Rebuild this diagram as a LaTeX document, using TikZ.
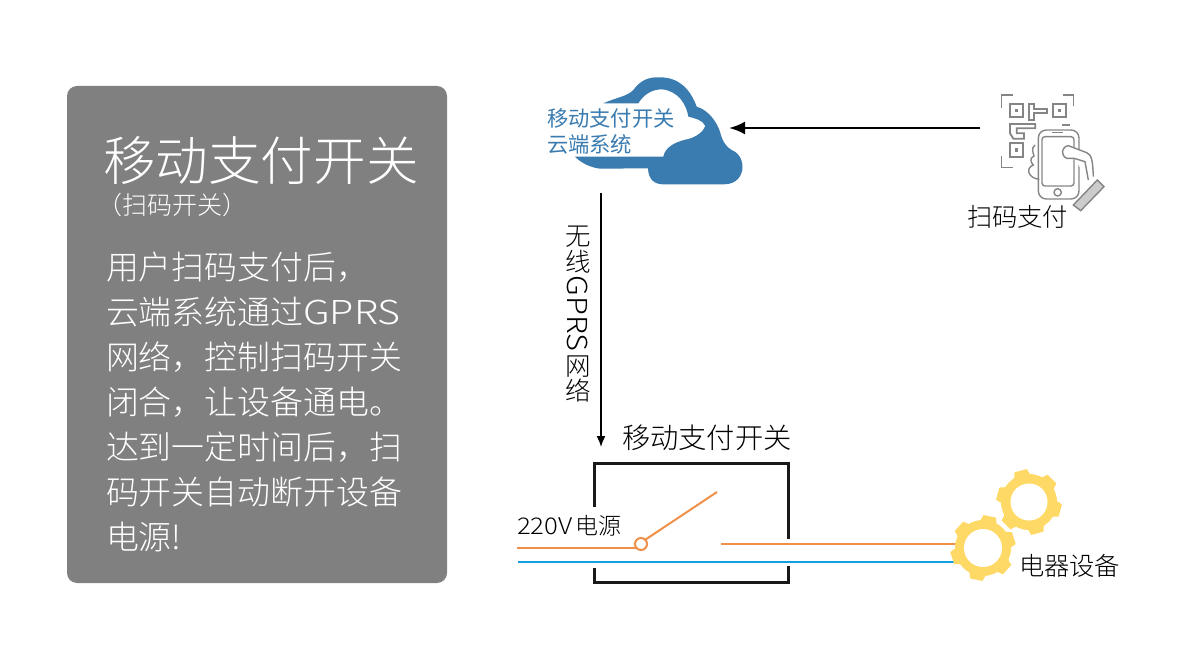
\documentclass[tikz,border=0pt]{standalone}
\usepackage{fontspec}
\setmainfont{Noto Sans CJK SC Light}
\newfontfamily\cjkreg{Noto Sans CJK SC}
\usetikzlibrary{arrows.meta}
\definecolor{panelgray}{HTML}{808080}
\definecolor{cloudblue}{HTML}{3A7BB0}
\definecolor{wireorange}{HTML}{F09048}
\definecolor{wireblue}{HTML}{12A0E4}
\definecolor{gearyellow}{HTML}{FFD966}
\definecolor{icongray}{HTML}{858585}
\tikzset{
  every node/.style={inner sep=0pt,outer sep=0pt},
  lbl/.style={anchor=west,text=black},
  panel/.style={anchor=west,text=white},
  wire/.style={line width=2pt},
  boxline/.style={line width=3pt,black!90},
  icon/.style={draw=icongray,line width=1.4pt},
}
\newcommand{\fsz}[1]{\fontsize{#1}{#1}\selectfont}
\newcommand{\gearshape}[5]{% cx cy outer rot inner
  \fill[gearyellow] (#1,#2) circle (#3-5);
  \foreach \k in {0,...,5}{
    \pgfmathsetmacro{\ang}{#4+\k*60}
    \fill[gearyellow] ([shift={(\ang-20:#3-7)}]#1,#2) -- ([shift={(\ang-11:#3)}]#1,#2) -- ([shift={(\ang+11:#3)}]#1,#2) -- ([shift={(\ang+20:#3-7)}]#1,#2) -- cycle;
  }
  \fill[white] (#1,#2) circle (#5);
}
\begin{document}
\begin{tikzpicture}[x=1pt,y=-1pt]
\useasboundingbox (0,0) rectangle (1200,668);
% left panel
\fill[panelgray,rounded corners=10pt] (67,86) rectangle (447,583);
\node[panel] (title) at (103,161) {\fsz{52.6}移动支付开关};
\node[panel] (sub) at (97,205) {\fsz{25}（扫码开关）};
\foreach \t/\yy/\nm in {用户扫码支付后，/267/a,云端系统通过\scalebox{1.2}[1]{GPRS}/312/b,网络，控制扫码开关/357/c,闭合，让设备通电。/402/d,达到一定时间后，扫/447/e,码开关自动断开设备/492/f,电源!/537/g}
  \node[panel] (body\nm) at (106,\yy) {\fsz{32.9}\t};
% cloud
\begin{scope}[shift={(520,60)},scale=1/3]
\fill[cloudblue] (250,130) .. controls (290,112) and (320,110) .. (340,90)
  .. controls (360,62) and (385,50) .. (420,52)
  .. controls (475,52) and (510,85) .. (530,140)
  .. controls (565,150) and (590,185) .. (600,215)
  .. controls (607,245) and (620,262) .. (635,270)
  .. controls (660,280) and (670,305) .. (667,330)
  .. controls (660,360) and (640,373) .. (610,373)
  -- (430,373) .. controls (405,373) and (385,360) .. (384,325)
  -- (240,326) .. controls (210,322) and (185,310) .. (165,290)
  -- (430,290) .. controls (435,262) and (465,245) .. (505,237)
  .. controls (530,230) and (550,215) .. (556,198)
  .. controls (548,180) and (525,175) .. (505,170)
  .. controls (500,135) and (475,92) .. (425,88)
  .. controls (395,88) and (370,105) .. (355,130) -- cycle;
\end{scope}
\coordinate (cloudport) at (729,128);
\coordinate (cloudbottom) at (601,193);
\node[lbl,text=cloudblue] (cloud1) at (547,118) {\fsz{21.3}\cjkreg 移动支付开关};
\node[lbl,text=cloudblue] (cloud2) at (547,144) {\fsz{21.3}\cjkreg 云端系统};
% QR icon
\begin{scope}[shift={(960,80)},scale=1/3]
\draw[icon] (158,45) -- (125,45) -- (125,85);
\draw[icon] (308,45) -- (340,45) -- (340,78);
\draw[icon] (125,228) -- (125,262) -- (158,262);
\foreach \qx/\qy in {150/72,278/72,150/190}{
  \draw[icon,line width=2.2pt] (\qx,\qy) rectangle ++(40,40);
  \fill[icongray] (\qx+15,\qy+15) rectangle ++(10,10);
}
\draw[icon,line width=1.8pt] (207,72) -- (221,72) -- (221,88) -- (262,88) -- (262,100) -- (221,100) -- (221,120) -- (207,120) -- cycle;
\draw[icon,line width=1.8pt] (150,132) -- (226,132) -- (226,145) -- (170,145) -- (170,160) -- (192,160) -- (192,176) -- (160,176) -- (150,160) -- cycle;
\draw[icon] (225,195) .. controls (212,205) and (220,220) .. (222,228) .. controls (205,235) and (215,250) .. (220,255) .. controls (195,265) and (205,295) .. (238,298);
\draw[icon,rounded corners=8pt] (235,150) rectangle (357,357);
\draw[icon,rounded corners=3pt] (246,170) rectangle (342,318);
\draw[icon] (275,157) -- (310,157);
\draw[icon] (293,337) circle (11);
\draw[icon] (305,135) -- (330,135);
\draw[icon,fill=white] (342,235) -- (320,235) .. controls (300,225) and (305,200) .. (325,197) -- (380,218) .. controls (395,225) and (398,240) .. (400,290);
\draw[icon,fill=white] (342,235) -- (375,245) -- (385,300);
\draw[icon,fill=black!20] (340,375) -- (412,300) -- (432,320) -- (362,392) -- cycle;
\end{scope}
\coordinate (qrport) at (980,128);
\node[lbl] (pay) at (967,217) {\fsz{25.3}扫码支付};
% connectors
\draw[line width=2.5pt,-{Latex[length=16pt,width=13pt]}] (qrport) -- (cloudport);
\coordinate (switchtop) at (601,447);
\draw[line width=1.6pt,-{Latex[length=11pt,width=9pt]}] (cloudbottom) -- (switchtop);
% vertical label
\node (v1) at (578,237) {\fsz{25.5}无};
\node (v2) at (578,262) {\fsz{25.5}线};
\node[rotate=-90] (v3) at (578,313.5) {\fsz{27.5}\scalebox{1.12}[1]{GPRS}};
\node (v4) at (578,367) {\fsz{25.5}网};
\node (v5) at (578,391) {\fsz{25.5}络};
% switch box
\node[lbl] (swtitle) at (622,438) {\fsz{28.3}移动支付开关};
\draw[boxline] (594,507) -- (594,463) -- (788,463) -- (788,539);
\draw[boxline] (594,568) -- (594,582) -- (788,582) -- (788,566);
\node[lbl] (v220) at (517,526) {\fsz{23}\scalebox{1.12}[1]{220V}\kern3pt 电源};
% gears
\coordinate (gearA) at (1029,502);
\coordinate (gearB) at (983,548);
\node[draw=wireorange,fill=white,circle,line width=2pt,minimum size=12pt] (pivot) at (641,544) {};
\coordinate (src1) at (517,548);
\coordinate (src2) at (518,562);
\coordinate (swtip) at (717,492);
\coordinate (out1) at (721,544);
\draw[wireorange,wire] (src1) -- (pivot.south west|-src1);
\draw[wireorange,wire] (pivot.45) -- (swtip);
\draw[wireorange,wire] (out1) -- (out1-|gearB);
\draw[wireblue,wire] (src2) -- (src2-|gearB);
\gearshape{1029}{502}{33}{15}{18.5}
\gearshape{983}{548}{33}{-18}{19}
\node[lbl] (dev) at (1019,566) {\fsz{25.3}电器设备};
\end{tikzpicture}
\end{document}
